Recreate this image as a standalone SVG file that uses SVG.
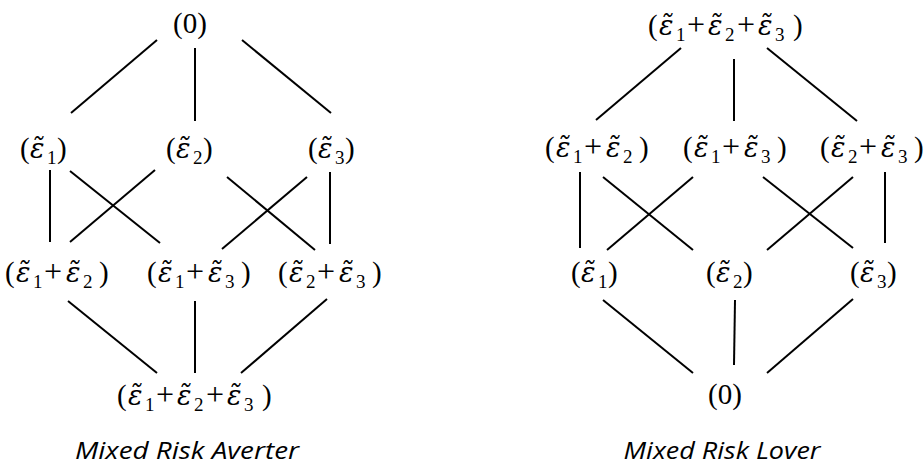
<svg xmlns="http://www.w3.org/2000/svg" width="924" height="467" viewBox="0 0 924 467">
<style>
.m{font-family:"Liberation Serif","Times New Roman",serif;font-size:29px;fill:#000}
.e{font-family:"DejaVu Serif",serif;font-style:italic;font-size:27px}
.s{font-size:19px}
.p{font-size:32px}
.cap{font-family:"Open Sans","Liberation Sans",sans-serif;font-style:italic;font-size:23px;fill:#000;text-anchor:middle}
.c line{stroke:#000;stroke-width:2;stroke-linecap:butt}
</style>
<rect width="924" height="467" fill="#fff"/>
<g id="connectors" class="c">
<line x1="157" y1="40" x2="71" y2="113"/>
<line x1="195" y1="48" x2="195" y2="121"/>
<line x1="242" y1="40" x2="331" y2="113"/>
<line x1="50" y1="170" x2="50" y2="242"/>
<line x1="70" y1="171" x2="160" y2="243"/>
<line x1="155" y1="170" x2="70" y2="242"/>
<line x1="227" y1="177" x2="315" y2="250"/>
<line x1="307" y1="177" x2="222" y2="249"/>
<line x1="330" y1="172" x2="330" y2="244"/>
<line x1="68" y1="301" x2="157" y2="373"/>
<line x1="195" y1="301" x2="195" y2="373"/>
<line x1="327" y1="299" x2="241" y2="373"/>
<line x1="681" y1="48" x2="596" y2="120"/>
<line x1="734" y1="59" x2="734" y2="121"/>
<line x1="767" y1="48" x2="857" y2="121"/>
<line x1="580" y1="172" x2="580" y2="248"/>
<line x1="603" y1="177" x2="693" y2="250"/>
<line x1="693" y1="177" x2="607" y2="250"/>
<line x1="763" y1="177" x2="853" y2="248"/>
<line x1="853" y1="177" x2="767" y2="250"/>
<line x1="885" y1="172" x2="885" y2="243"/>
<line x1="603" y1="300" x2="693" y2="373"/>
<line x1="735" y1="300" x2="734" y2="365"/>
<line x1="853" y1="299" x2="767" y2="373"/>
</g>
<g id="L_zero"><text class="m" x="190" y="33" text-anchor="middle">(0)</text></g>
<g id="L_e1" transform="translate(20,158)"><text class="m"><tspan x="0" y="0">(</tspan><tspan class="e" x="10" y="0">ε&#x303;</tspan><tspan class="s" x="27" y="6">1</tspan><tspan x="37" y="0">)</tspan></text></g>
<g id="L_e2" transform="translate(166,158)"><text class="m"><tspan x="0" y="0">(</tspan><tspan class="e" x="10" y="0">ε&#x303;</tspan><tspan class="s" x="27" y="6">2</tspan><tspan x="37" y="0">)</tspan></text></g>
<g id="L_e3" transform="translate(308,158)"><text class="m"><tspan x="0" y="0">(</tspan><tspan class="e" x="10" y="0">ε&#x303;</tspan><tspan class="s" x="27" y="6">3</tspan><tspan x="37" y="0">)</tspan></text></g>
<g id="L_e12" transform="translate(5,282)"><text class="m"><tspan x="0" y="0">(</tspan><tspan class="e" x="11" y="0">ε&#x303;</tspan><tspan class="s" x="28" y="6">1</tspan><tspan class="p" x="39" y="0">+</tspan><tspan class="e" x="61" y="0">ε&#x303;</tspan><tspan class="s" x="78" y="6">2</tspan><tspan x="94" y="0">)</tspan></text></g>
<g id="L_e13" transform="translate(147,282)"><text class="m"><tspan x="0" y="0">(</tspan><tspan class="e" x="11" y="0">ε&#x303;</tspan><tspan class="s" x="28" y="6">1</tspan><tspan class="p" x="39" y="0">+</tspan><tspan class="e" x="61" y="0">ε&#x303;</tspan><tspan class="s" x="78" y="6">3</tspan><tspan x="94" y="0">)</tspan></text></g>
<g id="L_e23" transform="translate(278,282)"><text class="m"><tspan x="0" y="0">(</tspan><tspan class="e" x="11" y="0">ε&#x303;</tspan><tspan class="s" x="28" y="6">2</tspan><tspan class="p" x="39" y="0">+</tspan><tspan class="e" x="61" y="0">ε&#x303;</tspan><tspan class="s" x="78" y="6">3</tspan><tspan x="94" y="0">)</tspan></text></g>
<g id="L_e123" transform="translate(117,405)"><text class="m"><tspan x="0" y="0">(</tspan><tspan class="e" x="11" y="0">ε&#x303;</tspan><tspan class="s" x="28" y="6">1</tspan><tspan class="p" x="39" y="0">+</tspan><tspan class="e" x="60" y="0">ε&#x303;</tspan><tspan class="s" x="77" y="6">2</tspan><tspan class="p" x="89" y="0">+</tspan><tspan class="e" x="110" y="0">ε&#x303;</tspan><tspan class="s" x="127" y="6">3</tspan><tspan x="145" y="0">)</tspan></text></g>
<g id="R_e123" transform="translate(648,35)"><text class="m"><tspan x="0" y="0">(</tspan><tspan class="e" x="11" y="0">ε&#x303;</tspan><tspan class="s" x="28" y="6">1</tspan><tspan class="p" x="39" y="0">+</tspan><tspan class="e" x="60" y="0">ε&#x303;</tspan><tspan class="s" x="77" y="6">2</tspan><tspan class="p" x="89" y="0">+</tspan><tspan class="e" x="110" y="0">ε&#x303;</tspan><tspan class="s" x="127" y="6">3</tspan><tspan x="145" y="0">)</tspan></text></g>
<g id="R_e12" transform="translate(545,157)"><text class="m"><tspan x="0" y="0">(</tspan><tspan class="e" x="11" y="0">ε&#x303;</tspan><tspan class="s" x="28" y="6">1</tspan><tspan class="p" x="39" y="0">+</tspan><tspan class="e" x="61" y="0">ε&#x303;</tspan><tspan class="s" x="78" y="6">2</tspan><tspan x="94" y="0">)</tspan></text></g>
<g id="R_e13" transform="translate(683,157)"><text class="m"><tspan x="0" y="0">(</tspan><tspan class="e" x="11" y="0">ε&#x303;</tspan><tspan class="s" x="28" y="6">1</tspan><tspan class="p" x="39" y="0">+</tspan><tspan class="e" x="61" y="0">ε&#x303;</tspan><tspan class="s" x="78" y="6">3</tspan><tspan x="94" y="0">)</tspan></text></g>
<g id="R_e23" transform="translate(820,157)"><text class="m"><tspan x="0" y="0">(</tspan><tspan class="e" x="11" y="0">ε&#x303;</tspan><tspan class="s" x="28" y="6">2</tspan><tspan class="p" x="39" y="0">+</tspan><tspan class="e" x="61" y="0">ε&#x303;</tspan><tspan class="s" x="78" y="6">3</tspan><tspan x="94" y="0">)</tspan></text></g>
<g id="R_e1" transform="translate(571,282)"><text class="m"><tspan x="0" y="0">(</tspan><tspan class="e" x="10" y="0">ε&#x303;</tspan><tspan class="s" x="27" y="6">1</tspan><tspan x="37" y="0">)</tspan></text></g>
<g id="R_e2" transform="translate(706,282)"><text class="m"><tspan x="0" y="0">(</tspan><tspan class="e" x="10" y="0">ε&#x303;</tspan><tspan class="s" x="27" y="6">2</tspan><tspan x="37" y="0">)</tspan></text></g>
<g id="R_e3" transform="translate(850,282)"><text class="m"><tspan x="0" y="0">(</tspan><tspan class="e" x="10" y="0">ε&#x303;</tspan><tspan class="s" x="27" y="6">3</tspan><tspan x="37" y="0">)</tspan></text></g>
<g id="R_zero"><text class="m" x="725" y="404" text-anchor="middle">(0)</text></g>
<g id="cap_left"><text class="cap" x="187" y="459" textLength="224" lengthAdjust="spacingAndGlyphs">Mixed Risk Averter</text></g>
<g id="cap_right"><text class="cap" x="722" y="459" textLength="197" lengthAdjust="spacingAndGlyphs">Mixed Risk Lover</text></g>
</svg>
